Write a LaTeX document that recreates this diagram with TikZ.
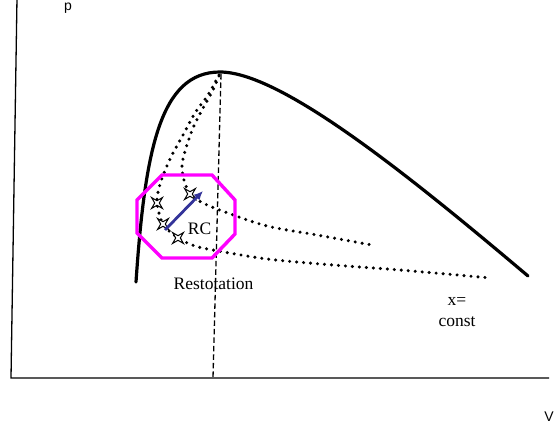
\documentclass[tikz,border=0pt]{standalone}
\usepackage{fontspec}
\setmainfont{Liberation Serif}
\newfontfamily\labelsans{Liberation Sans}
\usetikzlibrary{shapes.geometric, arrows.meta, positioning}

\begin{document}
\begin{tikzpicture}[
    x=1pt, y=-1pt,
    every node/.style={inner sep=0pt},
    serif/.style={font=\fontsize{17.5}{21}\selectfont, align=center},
    sanslabel/.style={font=\labelsans\fontsize{14}{16}\selectfont},
    axis/.style={line width=1.3pt},
    envelope/.style={line width=3.2pt, line cap=round},
    dotline/.style={line width=3.4pt, line cap=round, dash pattern=on 0pt off 7pt},
    dashline/.style={line width=1.3pt, dash pattern=on 5.5pt off 3pt},
    cross/.style={star, star points=4, star point ratio=0.3, draw, fill=white, line width=1pt, minimum size=4.6pt},
    region/.style={draw=magenta, line width=3.4pt, line join=miter},
    step arrow/.style={-{Latex[length=9pt, width=8pt]}, line width=2.8pt, draw=arrowblue}
]
\definecolor{magenta}{RGB}{255,0,255}
\definecolor{arrowblue}{RGB}{51,51,153}
\useasboundingbox (0,0) rectangle (556,425);

\coordinate (origin) at (11,378);
\coordinate (ytop) at (17,-2);
\coordinate (xend) at (549,378);
\coordinate (peak) at (220,72);
\coordinate (foot) at (213,378);

\draw[axis] (ytop) -- (origin) -- (xend);
\node[sanslabel, anchor=north west] (plabel) at (64,2.5) {p};
\node[sanslabel] (vlabel) at (549,417) {V};

\draw[dashline] (221,74) -- (foot);

\draw[envelope] (136,282) .. controls (145,150) and (160,72) .. (peak)
    .. controls (280,72) and (405,172) .. (528,276);

\draw[dotline] plot[smooth, tension=0.5] coordinates {(219,75) (208,95) (195,113) (183,135) (172,155) (164,173) (159,188) (157,203) (163,224) (178,238) (195,246) (213,250) (267,259) (333,265) (400,270) (491,278)};
\draw[dotline] plot[smooth, tension=0.5] coordinates {(219,76) (212,92) (202,110) (193,128) (186,148) (182,165) (184,180) (190,194) (203,203) (225,212) (267,226) (317,235) (372,245)};

\draw[region] (162,175) -- (212,175) -- (235,200) -- (235,234) -- (212,258) -- (162,258) -- (137,233) -- (137,200) -- cycle;

\node[cross] (s1) at (157,203) {};
\node[cross] (s2) at (163,224) {};
\node[cross] (s3) at (178,238) {};
\node[cross] (s4) at (190,194) {};

\coordinate (tail) at (165,230);
\coordinate (tip) at (203,191);
\draw[step arrow] (tail) -- (tip);

\node[serif, anchor=base] (rc) at (199.5,234) {RC};
\node[serif, anchor=base] (rest) at (213.5,289) {Restotation};
\node[serif, anchor=base] (xc) at (457,326) {x=\\const};
\end{tikzpicture}
\end{document}
